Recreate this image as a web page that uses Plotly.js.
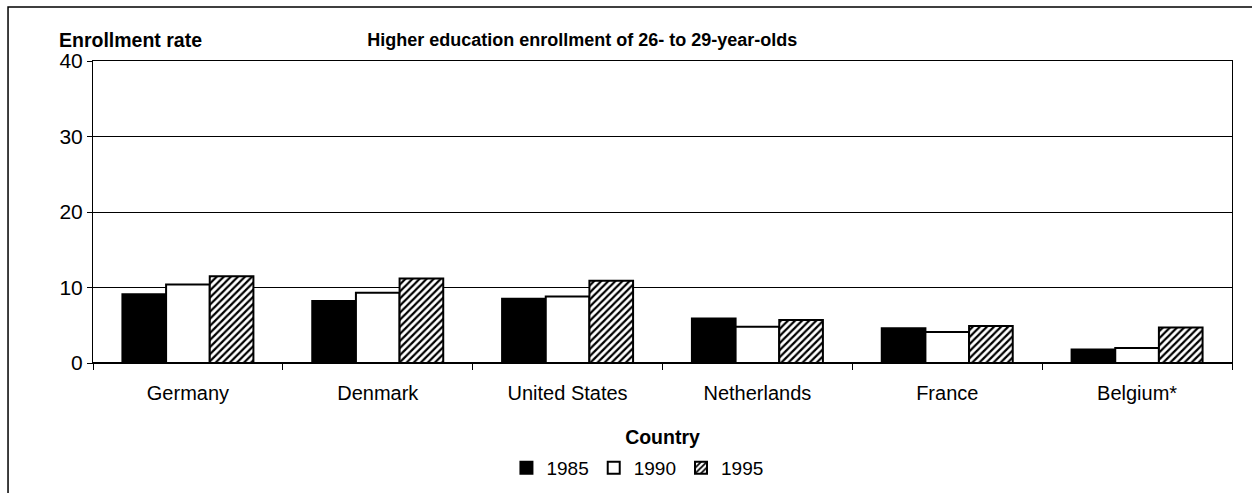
<!DOCTYPE html>
<html>
<head>
<meta charset="utf-8">
<script src="https://cdn.plot.ly/plotly-3.0.1.min.js"></script>
<style>html,body{margin:0;padding:0;background:#fff;}#chart{width:1252px;height:493px;}</style>
</head>
<body>
<div id="chart"></div>
<script>
const countries = ["Germany", "Denmark", "United States", "Netherlands", "France", "Belgium*"];
const years = ["1985", "1990", "1995"];
const rate1985 = [9.1, 8.2, 8.5, 5.9, 4.6, 1.8];
const rate1990 = [10.4, 9.3, 8.8, 4.8, 4.1, 2.0];
const rate1995 = [11.5, 11.2, 10.9, 5.7, 4.9, 4.7];
const yTicks = [0, 10, 20, 30, 40];

const font = "Liberation Sans, Arial, sans-serif";
const line = {color: "#000", width: 2};

const traces = [
  {type: "bar", name: years[0], x: countries, y: rate1985,
   marker: {color: "#000", line: line}},
  {type: "bar", name: years[1], x: countries, y: rate1990,
   marker: {color: "#fff", line: line}},
  {type: "bar", name: years[2], x: countries, y: rate1995,
   marker: {color: "#fff", line: line,
     pattern: {shape: "/", fgcolor: "#000", bgcolor: "#fff", size: 5, solidity: 0.45}}}
];

const layout = {
  width: 1252, height: 493,
  margin: {l: 93, r: 20, t: 61, b: 130, autoexpand: false},
  paper_bgcolor: "#fff", plot_bgcolor: "#fff",
  font: {family: font, size: 20, color: "#000"},
  title: {text: "<b>Higher education enrollment of 26- to 29-year-olds</b>",
    font: {family: font, size: 18, color: "#000"},
    x: 0.465, xanchor: "center", y: 0.919, yanchor: "middle", xref: "container", yref: "container"},
  barmode: "group", bargap: 0.31, bargroupgap: 0,
  showlegend: true,
  legend: {orientation: "h", x: 0.478, xanchor: "center", y: -0.347, yanchor: "middle",
    font: {family: font, size: 19}, itemwidth: 30, traceorder: "normal"},
  xaxis: {
    type: "category", automargin: false, showgrid: false, showline: true, linecolor: "#000", linewidth: 1, mirror: true,
    ticks: "outside", ticklen: 6, tickcolor: "#000", tickson: "boundaries",
    ticklabelstandoff: 12,
    tickfont: {family: font, size: 20},
    title: {text: "<b>Country</b>", font: {family: font, size: 19.5}, standoff: 27}
  },
  yaxis: {
    range: [0, 40], automargin: false, tickvals: yTicks, ticktext: yTicks.map(String),
    showgrid: true, gridcolor: "#000", gridwidth: 1,
    showline: true, linecolor: "#000", linewidth: 1, mirror: true,
    zeroline: true, zerolinecolor: "#000", zerolinewidth: 2,
    ticks: "outside", ticklen: 5, tickcolor: "#000",
    tickfont: {family: font, size: 21}
  },
  annotations: [
    {text: "<b>Enrollment rate</b>", xref: "paper", yref: "paper",
     x: -0.0316, y: 1.0695, xanchor: "left", yanchor: "middle", showarrow: false,
     font: {family: font, size: 19.5}}
  ],
  shapes: [
    {type: "rect", xref: "paper", yref: "paper", x0: -0.0746, x1: 1.05, y0: -0.5, y1: 1.179,
     line: {color: "#000", width: 1.5}, fillcolor: "rgba(0,0,0,0)", layer: "below"}
  ]
};

Plotly.newPlot("chart", traces, layout, {displayModeBar: false, staticPlot: true});
</script>
</body>
</html>
